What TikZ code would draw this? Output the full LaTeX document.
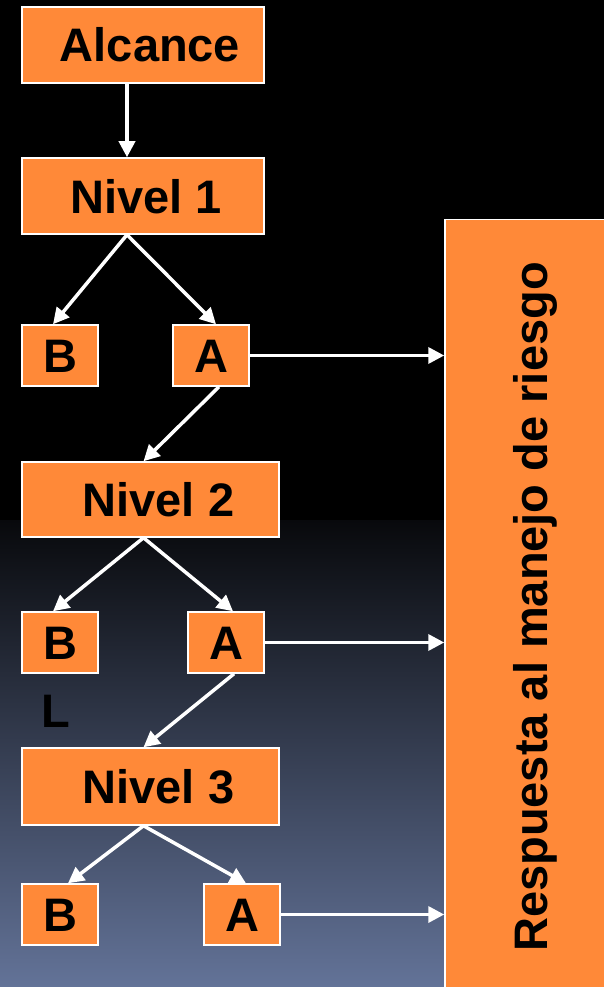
\documentclass[tikz,border=0pt]{standalone}
\usepackage{fontspec}
\setmainfont{Liberation Sans}
\usetikzlibrary{arrows.meta}
\definecolor{boxorange}{RGB}{255,137,56}
\definecolor{skytop}{RGB}{8,9,12}
\definecolor{skymid}{RGB}{52,60,80}
\definecolor{skybot}{RGB}{99,115,152}
\begin{document}
\begin{tikzpicture}[x=1pt,y=-1pt,
  box/.style={draw=white,line width=1.5pt,fill=boxorange,inner sep=0pt,
    font=\fontsize{47}{56}\selectfont\bfseries,text=black,
    text height=34pt,text depth=0pt},
  link/.style={draw=white,line width=3.5pt,
    -{Triangle[length=16pt,width=16pt]}},
  tag/.style={font=\fontsize{47}{56}\selectfont\bfseries,text=black,inner sep=0pt}]
  \useasboundingbox (0,0) rectangle (604,987);
  % background: black top fading into slate blue
  \fill[black] (0,0) rectangle (604,521);
  \shade[top color=skytop,middle color=skymid,bottom color=skybot]
    (0,520) rectangle (604,987);

  \begin{scope}
    \clip (0,0) rectangle (604,987);
    \node[box,minimum width=775pt,minimum height=170pt,rotate=90] (resp)
      at (530,607) {Respuesta al manejo de riesgo};
  \end{scope}

  \node[box,minimum width=242pt,minimum height=76pt] (alc) at (143,45)
    {\hspace{14pt}Alcance};
  \node[box,minimum width=242pt,minimum height=76pt] (n1) at (143,196)
    {\hspace{6pt}Nivel 1};
  \node[box,minimum width=76pt,minimum height=61pt] (b1) at (60,355.5) {B};
  \node[box,minimum width=76pt,minimum height=61pt] (a1) at (211,355.5) {A};

  \node[box,minimum width=257pt,minimum height=75pt] (n2) at (150.5,499.5)
    {\hspace{16pt}Nivel 2};
  \node[box,minimum width=76pt,minimum height=61pt] (b2) at (60,642.5) {B};
  \node[box,minimum width=76pt,minimum height=61pt] (a2) at (226,642.5) {A};
  \node[tag,anchor=base] (l) at (56,727) {L};

  \node[box,minimum width=257pt,minimum height=77pt] (n3) at (150.5,786.5)
    {\hspace{16pt}Nivel 3};
  \node[box,minimum width=76pt,minimum height=61pt] (b3) at (60,914.5) {B};
  \node[box,minimum width=76pt,minimum height=61pt] (a3) at (242,914.5) {A};

  % connectors
  \draw[link] ([xshift=-16pt]alc.south) -- ([xshift=-16pt]n1.north);
  \draw[link] ([xshift=-16pt]n1.south) -- ([xshift=-7pt]b1.north);
  \draw[link] ([xshift=-16pt]n1.south) -- ([xshift=5pt]a1.north);
  \draw[link] ([xshift=8pt]a1.south) -- ([xshift=-7pt]n2.north);
  \draw[link] (a1.east) -- (resp.north |- a1.east);

  \draw[link] ([xshift=-7pt]n2.south) -- ([xshift=-7pt]b2.north);
  \draw[link] ([xshift=-7pt]n2.south) -- ([xshift=7pt]a2.north);
  \draw[link] ([xshift=8pt]a2.south) -- ([xshift=-7pt]n3.north);
  \draw[link] (a2.east) -- (resp.north |- a2.east);

  \draw[link] ([xshift=-7pt]n3.south) -- ([xshift=8pt]b3.north);
  \draw[link] ([xshift=-7pt]n3.south) -- ([xshift=4pt]a3.north);
  \draw[link] (a3.east) -- (resp.north |- a3.east);
\end{tikzpicture}
\end{document}
